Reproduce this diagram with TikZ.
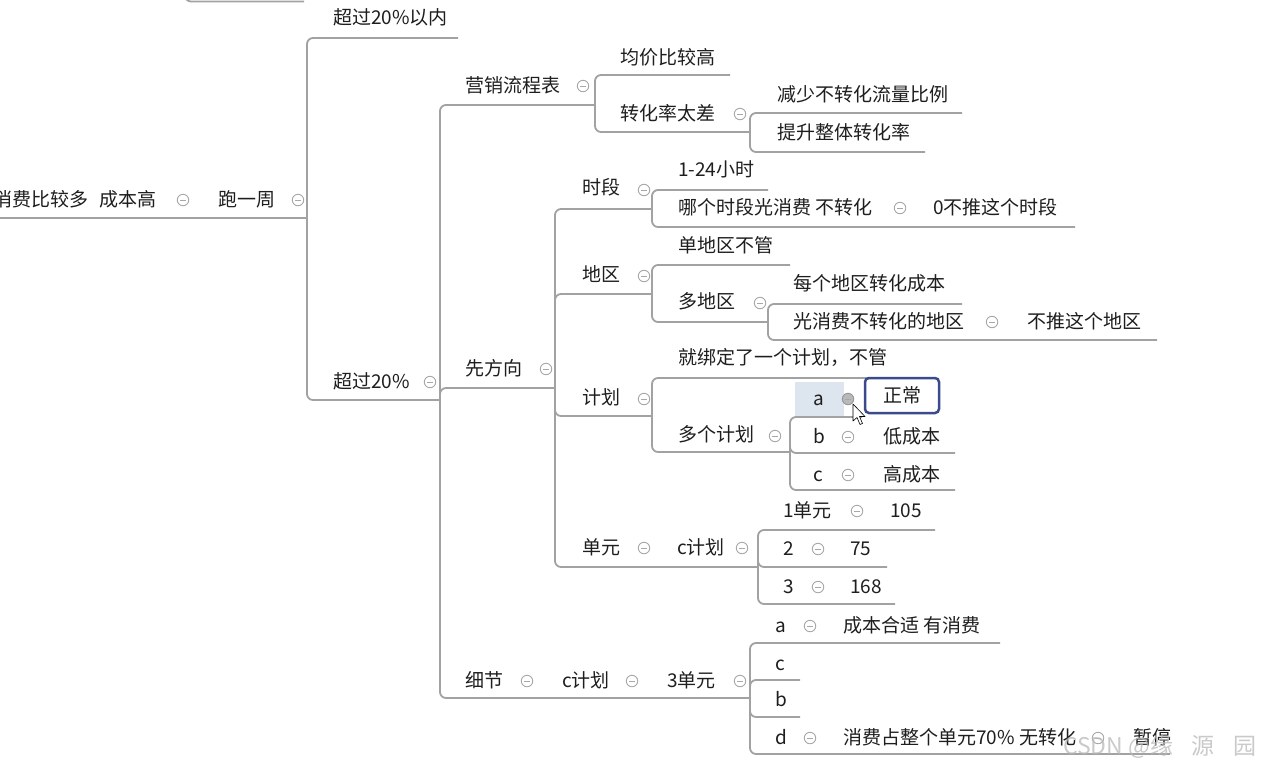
\documentclass[tikz,border=0pt]{standalone}
\usepackage{fontspec}
\setmainfont{Noto Sans CJK SC}
\newfontfamily\cjk{Noto Sans CJK SC}
\definecolor{linecol}{HTML}{A2A2A2}
\definecolor{textcol}{HTML}{1E1E1E}
\definecolor{iconcol}{HTML}{A8A8A8}
\definecolor{selblue}{HTML}{3A4A8C}
\definecolor{hilite}{HTML}{DDE6EE}
\tikzset{
  txt/.style={anchor=base west, inner sep=0pt, text=textcol, font=\cjk\fontsize{19}{21}\selectfont},
  conn/.style={draw=linecol, line width=1.8pt, rounded corners=6pt},
  coll/.style={circle, draw=iconcol, line width=0.9pt, minimum size=11.5pt, inner sep=0pt,
    path picture={\draw[iconcol, line width=0.9pt] ([xshift=-2.7pt]path picture bounding box.center) -- ([xshift=2.7pt]path picture bounding box.center);}},
  collsel/.style={coll, fill=iconcol!80, draw=iconcol!90!black},
}
\begin{document}
\begin{tikzpicture}[x=1pt, y=-1pt]
\useasboundingbox (0,0) rectangle (1261,769);
\clip (0,0) rectangle (1261,769);
\fill[white] (0,0) rectangle (1261,769);

% cut-off element at top
\coordinate (top-a) at (185,-6);
\coordinate (top-b) at (304,1.5);
\draw[conn] (top-a) |- (top-b);

% ---------- root ----------
\node[txt, anchor=base east] (r1) at (157,206.5) {消费比较多\hspace{11pt}成本高};
\node[coll] (r1c) at (183,200) {};
\node[txt] (r2) at (218,206.5) {跑一周};
\node[coll] (r2c) at (298,200) {};
\coordinate (rs) at (-5,218);
\coordinate (rj) at (307,218);
\draw[conn] (rs) -- (rj);

% level 1
\node[txt] (a1) at (333,24.5) {超过20\%以内};
\coordinate (a1e) at (458,38);
\draw[conn] (rj) |- (a1e);

\node[txt] (a2) at (333,388.5) {超过20\%};
\node[coll] (a2c) at (430,382) {};
\coordinate (a2j) at (440,400);
\draw[conn] (rj) |- (a2j);

% ---------- 营销流程表 ----------
\node[txt] (b1) at (465,92.5) {营销流程表};
\node[coll] (b1c) at (583,86) {};
\coordinate (b1j) at (595,105);
\draw[conn] (a2j) |- (b1j);

\node[txt] (c1) at (620,64.5) {均价比较高};
\coordinate (c1e) at (730,75);
\draw[conn] (b1j) |- (c1e);

\node[txt] (c2) at (620,120.5) {转化率太差};
\node[coll] (c2c) at (740,114) {};
\coordinate (c2j) at (750,132);
\draw[conn] (b1j) |- (c2j);

\node[txt] (d1) at (777,101.5) {减少不转化流量比例};
\coordinate (d1e) at (962,113);
\draw[conn] (c2j) |- (d1e);
\node[txt] (d2) at (777,139.5) {提升整体转化率};
\coordinate (d2e) at (925,152);
\draw[conn] (c2j) |- (d2e);

% ---------- 先方向 ----------
\node[txt] (b2) at (465,375.5) {先方向};
\node[coll] (b2c) at (546,369) {};
\coordinate (b2j) at (555,388);
\draw[conn] (a2j) |- (b2j);

% 时段
\node[txt] (e1) at (582,194.5) {时段};
\node[coll] (e1c) at (644,190) {};
\coordinate (e1j) at (652,209);
\draw[conn] (b2j) |- (e1j);
\node[txt] (f1) at (678,176.5) {1-24小时};
\coordinate (f1e) at (768,190);
\draw[conn] (e1j) |- (f1e);
\node[txt] (f2) at (678,214.5) {哪个时段光消费 不转化};
\node[coll] (f2c) at (900,208) {};
\node[txt] (f2b) at (933,214.5) {0不推这个时段};
\coordinate (f2e) at (1075,227);
\draw[conn] (e1j) |- (f2e);

% 地区
\node[txt] (e2) at (582,281.5) {地区};
\node[coll] (e2c) at (644,276) {};
\coordinate (e2j) at (652,294);
\draw[conn] (b2j) |- (e2j);
\node[txt] (f3) at (678,252.5) {单地区不管};
\coordinate (f3e) at (790,265);
\draw[conn] (e2j) |- (f3e);
\node[txt] (f4) at (678,308.5) {多地区};
\node[coll] (f4c) at (760,303) {};
\coordinate (f4j) at (768,322);
\draw[conn] (e2j) |- (f4j);
\node[txt] (g1) at (793,290.5) {每个地区转化成本};
\coordinate (g1e) at (962,304);
\draw[conn] (f4j) |- (g1e);
\node[txt] (g2) at (793,328.5) {光消费不转化的地区};
\node[coll] (g2c) at (992,322) {};
\node[txt] (g2b) at (1027,328.5) {不推这个地区};
\coordinate (g2e) at (1157,340);
\draw[conn] (f4j) |- (g2e);

% 计划
\node[txt] (e3) at (582,404.5) {计划};
\node[coll] (e3c) at (644,399) {};
\coordinate (e3j) at (652,416);
\draw[conn] (b2j) |- (e3j);
\node[txt] (f5) at (678,364.5) {就绑定了一个计划，不管};
\coordinate (f5e) at (880,378);
\draw[conn] (e3j) |- (f5e);
\node[txt] (f6) at (678,441.5) {多个计划};
\node[coll] (f6c) at (775,436) {};
\coordinate (f6j) at (790,452);
\draw[conn] (e3j) |- (f6j);

\coordinate (h1e) at (862,417);
\draw[conn] (f6j) |- (h1e);
\fill[hilite] (795,382) rectangle (844,416);
\node[txt] (h1) at (813,405.5) {a};
\node[collsel] (h1c) at (848,399) {};
\node[draw=selblue, line width=2.5pt, rounded corners=4pt, fill=white, minimum width=74pt, minimum height=35pt, inner sep=0pt, text=textcol, font=\cjk\fontsize{19}{21}\selectfont] (h1b) at (902,395.5) {正常};

\node[txt] (h2) at (813,443.5) {b};
\node[coll] (h2c) at (848,437) {};
\node[txt] (h2b) at (883,443.5) {低成本};
\coordinate (h2e) at (955,453);
\draw[conn] (f6j) |- (h2e);
\node[txt] (h3) at (813,481.5) {c};
\node[coll] (h3c) at (848,475) {};
\node[txt] (h3b) at (883,481.5) {高成本};
\coordinate (h3e) at (955,490);
\draw[conn] (f6j) |- (h3e);

% cursor
\draw[fill=white, draw=black, line width=0.6pt, line join=round]
  (853,404) -- (853,421) -- (857,417.5) -- (860,424.5) -- (862.5,423.5) -- (859.5,416.5) -- (865,416.5) -- cycle;

% 单元
\node[txt] (e4) at (582,554.5) {单元};
\node[coll] (e4c) at (644,548) {};
\node[txt] (e4b) at (677,554.5) {c计划};
\node[coll] (e4d) at (742,548) {};
\coordinate (e4j) at (758,567);
\draw[conn] (b2j) |- (e4j);
\node[txt] (i1) at (783,517.5) {1单元};
\node[coll] (i1c) at (857,511) {};
\node[txt] (i1b) at (890,517.5) {105};
\coordinate (i1e) at (935,530);
\draw[conn] (e4j) |- (i1e);
\node[txt] (i2) at (783,555.5) {2};
\node[coll] (i2c) at (818,549) {};
\node[txt] (i2b) at (850,555.5) {75};
\coordinate (i2e) at (887,567);
\draw[conn] (e4j) |- (i2e);
\node[txt] (i3) at (783,593.5) {3};
\node[coll] (i3c) at (818,587) {};
\node[txt] (i3b) at (850,593.5) {168};
\coordinate (i3e) at (895,604);
\draw[conn] (e4j) |- (i3e);

% ---------- 细节 ----------
\node[txt] (b3) at (465,687.5) {细节};
\node[coll] (b3c) at (527,681) {};
\node[txt] (b3b) at (562,687.5) {c计划};
\node[coll] (b3d) at (632,681) {};
\node[txt] (b3e) at (667,687.5) {3单元};
\node[coll] (b3f) at (740,681) {};
\coordinate (b3j) at (750,698);
\draw[conn] (a2j) |- (b3j);

\node[txt] (j1) at (775,632.5) {a};
\node[coll] (j1c) at (810,626) {};
\node[txt] (j1b) at (843,632.5) {成本合适 有消费};
\coordinate (j1e) at (1000,643);
\draw[conn] (b3j) |- (j1e);
\node[txt] (j2) at (775,670.5) {c};
\coordinate (j2e) at (800,680);
\draw[conn] (b3j) |- (j2e);
\node[txt] (j3) at (775,706.5) {b};
\coordinate (j3e) at (800,717);
\draw[conn] (b3j) |- (j3e);
\node[txt] (j4) at (775,744.5) {d};
\node[coll] (j4c) at (810,738) {};
\node[txt] (j4b) at (843,744.5) {消费占整个单元70\% 无转化};
\node[coll] (j4d) at (1098,738) {};
\node[txt] (j4e2) at (1133,744.5) {暂停};
\coordinate (j4e) at (1170,754);
\draw[conn] (b3j) |- (j4e);

% watermark
\node[anchor=base west, inner sep=0pt, text=gray!55, opacity=0.75, font=\cjk\fontsize{23}{25}\selectfont] (wm) at (1063,754) {CSDN @缘\hspace{18pt}源\hspace{19pt}园};
\end{tikzpicture}
\end{document}
